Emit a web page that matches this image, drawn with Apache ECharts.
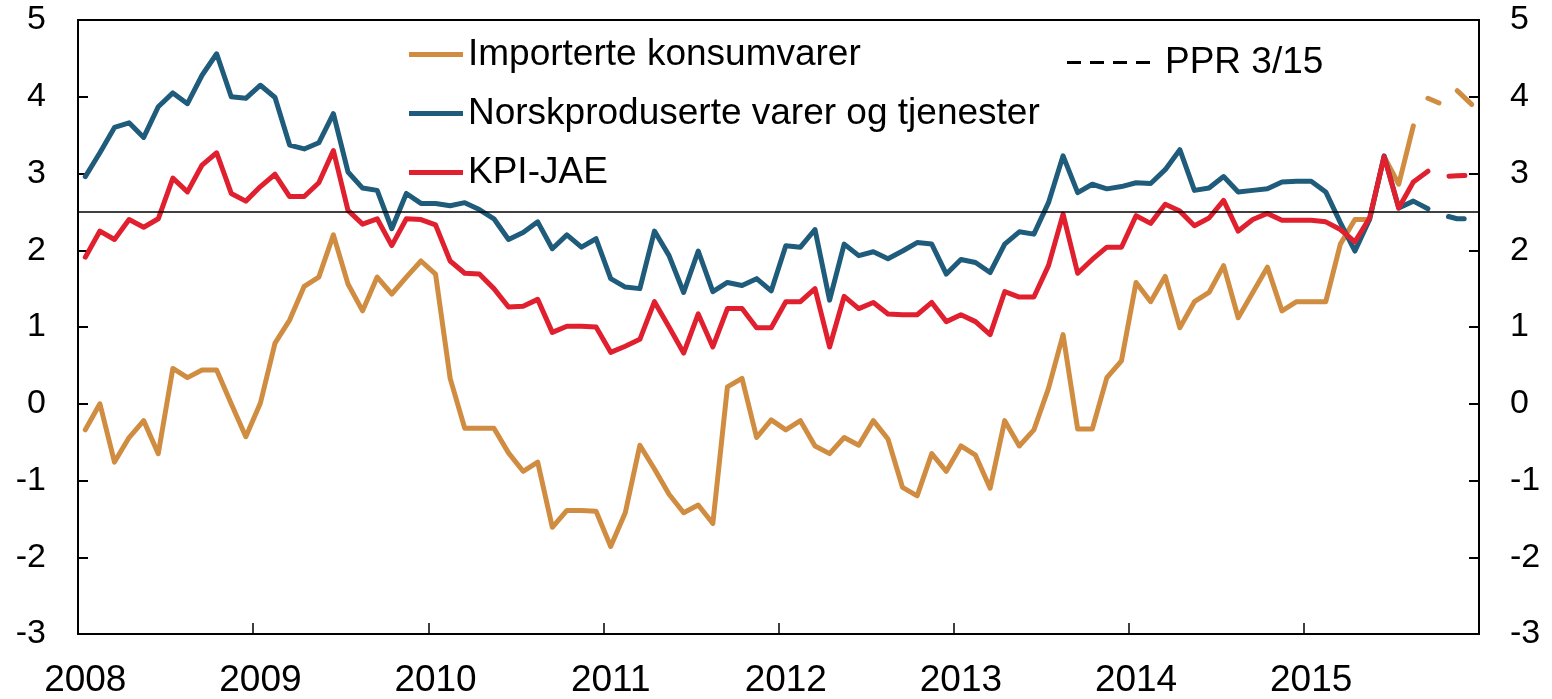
<!DOCTYPE html>
<html>
<head>
<meta charset="utf-8">
<title>Konsumprisvekst</title>
<script src="https://cdn.jsdelivr.net/npm/echarts@6/dist/echarts.min.js"></script>
<style>
html, body { margin: 0; padding: 0; background: #fff; }
#chart_a { width: 1552px; height: 699px; }
</style>
</head>
<body>
<div id="chart_a"></div>
<script>
// tick labels
var yearLabels = ['2008', '2009', '2010', '2011', '2012', '2013', '2014', '2015'];

// importerte konsumvarer, jan 2008 - aug 2015
var importerte = [-0.34, 0.00, -0.76, -0.44, -0.22, -0.65, 0.46, 0.34, 0.44, 0.44, 0.00, -0.43,
	0.01, 0.79, 1.09, 1.53, 1.65, 2.20, 1.56, 1.21, 1.65, 1.43, 1.65, 1.86,
	1.69, 0.33, -0.32, -0.32, -0.32, -0.64, -0.88, -0.76, -1.61, -1.39, -1.39, -1.40,
	-1.86, -1.42, -0.54, -0.85, -1.18, -1.42, -1.32, -1.56, 0.22, 0.33, -0.44, -0.21,
	-0.34, -0.22, -0.55, -0.65, -0.44, -0.54, -0.22, -0.46, -1.09, -1.20, -0.65, -0.88,
	-0.55, -0.67, -1.10, -0.22, -0.55, -0.34, 0.20, 0.90, -0.33, -0.33, 0.34, 0.56,
	1.58, 1.33, 1.66, 0.99, 1.33, 1.45, 1.80, 1.12, 1.45, 1.78, 1.21, 1.33,
	1.33, 1.33, 2.08, 2.40, 2.40, 3.22, 2.86, 3.62];
// norskproduserte varer og tjenester, jan 2008 - sep 2015
var norsk = [2.96, 3.27, 3.60, 3.66, 3.47, 3.87, 4.05, 3.91, 4.28, 4.56, 4.00, 3.98,
	4.15, 3.99, 3.37, 3.32, 3.40, 3.78, 3.02, 2.81, 2.78, 2.28, 2.74, 2.61,
	2.61, 2.58, 2.62, 2.53, 2.41, 2.14, 2.23, 2.37, 2.02, 2.20, 2.04, 2.15,
	1.63, 1.52, 1.50, 2.25, 1.93, 1.45, 1.99, 1.46, 1.58, 1.54, 1.63, 1.47,
	2.06, 2.04, 2.27, 1.35, 2.08, 1.93, 1.98, 1.89, 1.99, 2.10, 2.08, 1.69,
	1.88, 1.84, 1.71, 2.08, 2.24, 2.21, 2.62, 3.23, 2.75, 2.86, 2.80, 2.83,
	2.88, 2.87, 3.05, 3.31, 2.78, 2.81, 2.96, 2.76, 2.78, 2.80, 2.89, 2.90,
	2.90, 2.76, 2.36, 1.99, 2.40, 3.23, 2.55, 2.64, 2.54];
// KPI-JAE, jan 2008 - sep 2015
var kpiJae = [1.91, 2.25, 2.14, 2.40, 2.30, 2.41, 2.94, 2.76, 3.11, 3.27, 2.74, 2.64,
	2.83, 2.99, 2.70, 2.70, 2.88, 3.30, 2.52, 2.34, 2.41, 2.06, 2.41, 2.40,
	2.33, 1.86, 1.70, 1.69, 1.50, 1.26, 1.27, 1.36, 0.93, 1.01, 1.01, 1.00,
	0.67, 0.75, 0.84, 1.33, 1.00, 0.66, 1.17, 0.74, 1.24, 1.24, 0.99, 0.99,
	1.33, 1.33, 1.50, 0.74, 1.40, 1.24, 1.32, 1.17, 1.16, 1.16, 1.32, 1.07,
	1.16, 1.07, 0.90, 1.46, 1.39, 1.39, 1.80, 2.47, 1.70, 1.88, 2.04, 2.04,
	2.45, 2.35, 2.60, 2.51, 2.32, 2.42, 2.65, 2.25, 2.40, 2.48, 2.39, 2.39,
	2.39, 2.37, 2.27, 2.11, 2.42, 3.22, 2.55, 2.89, 3.03];

// PPR 3/15 anslag, sep - des 2015
var importerteAnslag = [3.98, 3.90, 4.08, 3.90];
var norskAnslag = [2.54, 2.46, 2.41, 2.41];
var kpiJaeAnslag = [3.03, 2.96, 2.97, 2.98];
var anslagStart = 92;
var inflasjonsmaal = 2.5;

var months = [];
for (var y = 0; y < yearLabels.length; y++) {
	for (var m = 1; m <= 12; m++) {
		months.push(yearLabels[y] + '-' + (m < 10 ? '0' + m : m));
	}
}

function tail(values) {
	var arr = [];
	for (var i = 0; i < anslagStart; i++) arr.push(null);
	return arr.concat(values);
}

var FONT = '"Liberation Sans", Arial, sans-serif';
var ORANGE = '#D08D42', BLUE = '#1F5B7A', RED = '#E0202F';
var LW = 5;

var mychart1 = echarts.init(document.getElementById('chart_a'));

function yAxisOf(pos, margin) {
	return {
		type: 'value',
		position: pos,
		min: -3,
		max: 5,
		interval: 1,
		splitLine: { show: false },
		axisLine: { show: true, onZero: false, lineStyle: { color: '#000', width: 2 } },
		axisTick: { show: true, inside: true, length: 10, lineStyle: { color: '#000', width: 2 } },
		axisLabel: { margin: margin, color: '#000', fontSize: 34, fontFamily: FONT }
	};
}

var option1 = {
	animation: false,
	backgroundColor: '#fff',
	grid: {
		left: 78, right: 73, top: 20, bottom: 62,
		show: true, borderColor: '#000', borderWidth: 2, backgroundColor: 'transparent'
	},
	legend: [{
		orient: 'vertical',
		left: 404,
		top: 31,
		icon: 'rect',
		itemWidth: 54,
		itemHeight: LW,
		itemGap: 22,
		data: ['Importerte konsumvarer', 'Norskproduserte varer og tjenester', 'KPI-JAE'],
		textStyle: { fontSize: 37, lineHeight: 37, color: '#000', fontFamily: FONT }
	}, {
		left: 1062,
		top: 39,
		icon: 'path://M0,0h14v3h-14z M23,0h14v3h-14z M46,0h14v3h-14z M69,0h14v3h-14z',
		itemWidth: 83,
		itemHeight: 3,
		data: ['PPR 3/15'],
		textStyle: { fontSize: 37, lineHeight: 37, color: '#000', fontFamily: FONT, padding: [0, 0, 0, 10] }
	}],
	xAxis: {
		type: 'category',
		boundaryGap: true,
		data: months,
		axisLine: { show: true, onZero: false, lineStyle: { color: '#000', width: 2 } },
		axisTick: {
			show: true, inside: true, length: 11,
			interval: function (idx) { return idx % 12 === 0; },
			lineStyle: { color: '#000', width: 1.5 }
		},
		axisLabel: {
			interval: function (idx) { return idx % 12 === 0; },
			formatter: function (v) { return v.substring(0, 4); },
			margin: 28, color: '#000', fontSize: 37, fontFamily: FONT
		},
		splitLine: { show: false }
	},
	yAxis: [yAxisOf('left', 32), yAxisOf('right', 31)],
	series: [
		{
			name: 'Importerte konsumvarer',
			type: 'line',
			showSymbol: false,
			symbol: 'none',
			data: importerte,
			lineStyle: { color: ORANGE, width: LW, cap: 'round', join: 'round' },
			itemStyle: { color: ORANGE },
			markLine: {
				silent: true,
				symbol: 'none',
				label: { show: false },
				lineStyle: { color: '#000', width: 1.5, type: 'solid' },
				data: [{ yAxis: inflasjonsmaal }]
			}
		},
		{
			name: 'Norskproduserte varer og tjenester',
			type: 'line',
			showSymbol: false,
			symbol: 'none',
			data: norsk,
			lineStyle: { color: BLUE, width: LW, cap: 'round', join: 'round' },
			itemStyle: { color: BLUE }
		},
		{
			name: 'KPI-JAE',
			type: 'line',
			showSymbol: false,
			symbol: 'none',
			data: kpiJae,
			lineStyle: { color: RED, width: LW, cap: 'round', join: 'round' },
			itemStyle: { color: RED }
		},
		{
			name: 'importerte anslag',
			type: 'line',
			symbol: 'none',
			data: tail(importerteAnslag),
			lineStyle: { color: ORANGE, width: LW, cap: 'round', join: 'round', type: [12, 24, 20, 20] }
		},
		{
			name: 'norsk anslag',
			type: 'line',
			symbol: 'none',
			data: tail(norskAnslag),
			lineStyle: { color: BLUE, width: LW, cap: 'round', join: 'round', type: [16, 22], dashOffset: 16 }
		},
		{
			name: 'kpi anslag',
			type: 'line',
			symbol: 'none',
			data: tail(kpiJaeAnslag),
			lineStyle: { color: RED, width: LW, cap: 'round', join: 'round', type: [16, 22], dashOffset: 16 }
		},
		{
			name: 'PPR 3/15',
			type: 'line',
			symbol: 'none',
			data: [],
			lineStyle: { color: '#000', width: 3, type: [14, 9] },
			itemStyle: { color: '#000' }
		}
	]
};
mychart1.setOption(option1, true);
</script>
</body>
</html>
